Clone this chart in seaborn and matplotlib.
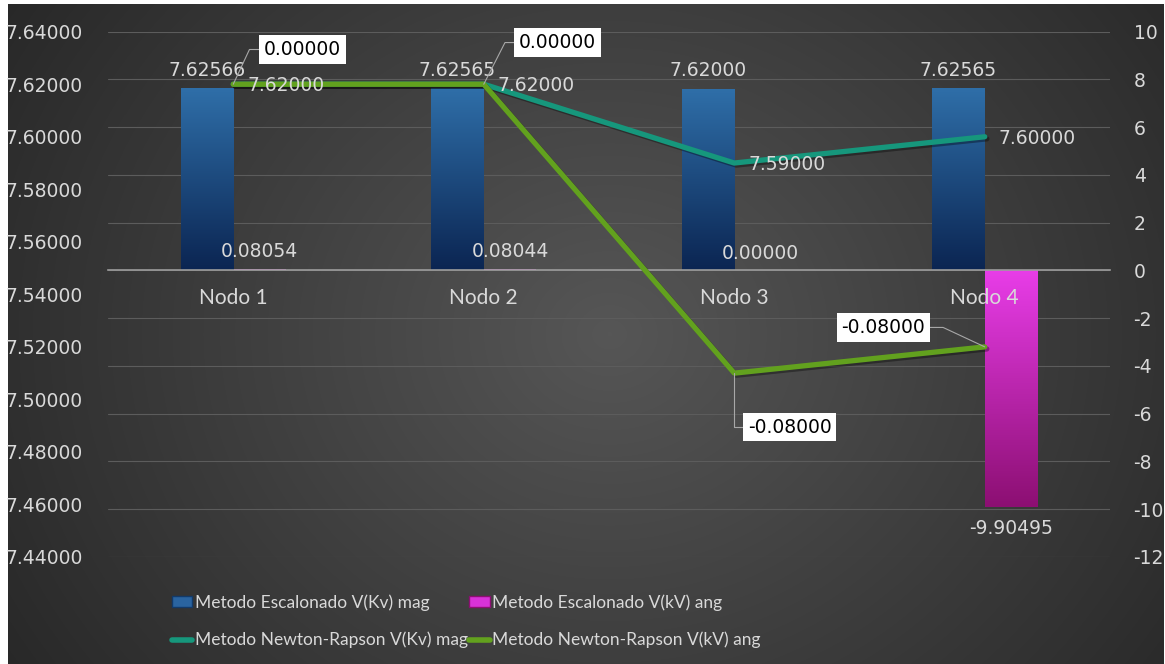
import numpy as np
import pandas as pd
import matplotlib
matplotlib.use("Agg")
import matplotlib.pyplot as plt
import matplotlib.patheffects as pe
import seaborn as sns
from matplotlib.colors import LinearSegmentedColormap
from matplotlib.patches import Patch
from matplotlib.lines import Line2D

nodos = ["Nodo 1", "Nodo 2", "Nodo 3", "Nodo 4"]
esc_mag = [7.62566, 7.62565, 7.62000, 7.62565]
esc_ang = [0.08054, 0.08044, 0.00000, -9.90495]
nr_mag = [7.62, 7.62, 7.59, 7.60]
# la linea de angulo aparece sobre el eje izquierdo en estas alturas
nr_ang_pos = [7.62, 7.62, 7.51, 7.52]
nr_ang_lbl = [0.0, 0.0, -0.08, -0.08]

series = ["Metodo Escalonado V(Kv) mag", "Metodo Escalonado V(kV) ang",
          "Metodo Newton-Rapson V(Kv) mag", "Metodo Newton-Rapson V(kV) ang"]

left_ticks = [7.44, 7.46, 7.48, 7.50, 7.52, 7.54, 7.56, 7.58, 7.60, 7.62, 7.64]
right_ticks = [-12, -10, -8, -6, -4, -2, 0, 2, 4, 6, 8, 10]

azul, rosa = "#2a64a0", "#d832d8"
teal, verde = "#16977c", "#62a11e"
txt = "#d9d9d9"
num_font = ["DejaVu Sans"]
num_size = 13.5

sns.set_style("dark")
plt.rcParams["font.family"] = ["Lato", "DejaVu Sans"]

fig = plt.figure(figsize=(11.65, 6.64), dpi=100, facecolor="white")

# fondo con degradado radial
bg = fig.add_axes([8 / 1165, 0, 1155 / 1165, 660 / 664])
bg.set_zorder(-10)
H, W = 660, 1155
yy, xx = np.mgrid[0:H, 0:W]
r = np.sqrt(((xx - 0.52 * W) / (0.62 * W)) ** 2 + ((yy - 0.5 * H) / (0.95 * H)) ** 2)
r = np.clip(r, 0, 1)
bg_cmap = LinearSegmentedColormap.from_list("bg", ["#565656", "#282828"])
bg.imshow(r, cmap=bg_cmap, aspect="auto", vmin=0, vmax=1)
bg.axis("off")

ax = fig.add_axes([108 / 1165, 1 - 557 / 664, 1002 / 1165, 525.3 / 664])
ax.set_facecolor("none")

df = pd.DataFrame({
    "nodo": nodos * 2,
    "serie": [series[0]] * 4 + [series[1]] * 4,
    "valor": esc_mag + esc_ang,
})
sns.barplot(data=df, x="nodo", y="valor", hue="serie", palette=[azul, rosa],
            width=0.42, saturation=1, linewidth=0, legend=False, ax=ax)

# degradado dentro de cada barra
grad = np.linspace(0, 1, 256).reshape(-1, 1)
colores = [("#0b2552", "#2f6fa9"), ("#8c0f72", "#e83de8")]
for cont, (c_bot, c_top) in zip(ax.containers, colores):
    cm = LinearSegmentedColormap.from_list("g", [c_bot, c_top])
    for p in cont.patches:
        h = p.get_height()
        if h == 0:
            continue
        x0, y0, w = p.get_x(), p.get_y(), p.get_width()
        lo, hi = min(y0, y0 + h), max(y0, y0 + h)
        if hi - lo < 0.3:
            p.set_facecolor("#e070e0")
            continue
        im = ax.imshow(grad, extent=[x0, x0 + w, lo, hi], origin="lower",
                       cmap=cm, aspect="auto", zorder=p.get_zorder() + 0.1)
        im.set_clip_path(p)

ax_l = ax.twinx()
ax_l.set_facecolor("none")
sombra = [pe.SimpleLineShadow(offset=(1.5, -1.5), alpha=0.35), pe.Normal()]
pos = np.arange(len(nodos))
sns.lineplot(x=pos, y=nr_mag, color=teal, lw=3.8, ax=ax_l, path_effects=sombra)
sns.lineplot(x=pos, y=nr_ang_pos, color=verde, lw=3.8, ax=ax_l, path_effects=sombra)

ax.set_xlim(-0.5, 3.5)
ax.set_ylim(-12, 10)
ax_l.set_ylim(7.44, 7.64)

ax.yaxis.tick_right()
ax.set_yticks(right_ticks)
ax.set_yticklabels([str(t) for t in right_ticks], family=num_font)
ax.tick_params(axis="y", length=0, pad=17, labelcolor=txt, labelsize=num_size)
ax_l.yaxis.tick_left()
ax_l.set_yticks(left_ticks)
ax_l.set_yticklabels([f"{t:.5f}" for t in left_ticks], family=num_font)
ax_l.tick_params(axis="y", length=0, pad=18, labelcolor=txt, labelsize=num_size)
ax_l.tick_params(axis="x", bottom=False, labelbottom=False)

ax.set_xticks(pos)
ax.tick_params(axis="x", length=0, labelbottom=False)
ax.spines["bottom"].set_position(("data", 0))
ax.spines["bottom"].set_color("#9c9c9c")
ax.spines["bottom"].set_linewidth(1.2)
for s in ["top", "left", "right"]:
    ax.spines[s].set_visible(False)
for s in ax_l.spines.values():
    s.set_visible(False)
ax.set_axisbelow(True)
ax.grid(axis="y", color="#5c5c5c", lw=0.8)
ax.grid(axis="x", visible=False)
ax_l.grid(False)
for a in (ax, ax_l):
    a.set_xlabel("")
    a.set_ylabel("")

# nombres de nodo bajo la linea de cero, encima de las barras
for x, n in zip(pos, nodos):
    ax.annotate(n, (x, 0), xytext=(0, -20), textcoords="offset points",
                ha="center", va="center", color=txt, fontsize=15, zorder=6)

# etiquetas de barras
for p, v in zip(ax.containers[0].patches, esc_mag):
    ax.annotate(f"{v:.5f}", (p.get_x() + p.get_width() / 2, v), xytext=(0, 9),
                textcoords="offset points", ha="center", va="baseline",
                color=txt, fontsize=num_size, family=num_font)
for p, v in zip(ax.containers[1].patches, esc_ang):
    if v < 0:
        ax.annotate(f"{v:.5f}", (p.get_x() + p.get_width() / 2, v), xytext=(0, -9),
                    textcoords="offset points", ha="center", va="top",
                    color=txt, fontsize=num_size, family=num_font)
    else:
        ax.annotate(f"{v:.5f}", (p.get_x() + p.get_width() / 2, v), xytext=(0, 8),
                    textcoords="offset points", ha="center", va="baseline",
                    color=txt, fontsize=num_size, family=num_font)

# etiquetas de la linea de magnitud
for x, v in zip(pos, nr_mag):
    ax_l.annotate(f"{v:.5f}", (x, v), xytext=(10, -1), textcoords="offset points",
                  ha="left", va="center", color=txt, fontsize=num_size,
                  family=num_font)

# etiquetas de la linea de angulo (cajas blancas con guia)
offsets = [(50, 25), (53, 30), (40, -39), (-73, 14)]
ang_b = [65, 63, 90, 155]
for x, yv, lbl, off, angb in zip(pos, nr_ang_pos, nr_ang_lbl, offsets, ang_b):
    izq = off[0] > 0
    ax_l.annotate(f"{lbl:.5f}", (x, yv), xytext=off, textcoords="offset points",
                  ha="center", va="center", color="black", fontsize=num_size,
                  family=num_font,
                  bbox=dict(boxstyle="square,pad=0.25", fc="white", ec="none"),
                  arrowprops=dict(arrowstyle="-", color="#a8a8a8", lw=0.8,
                                  shrinkA=0, shrinkB=0,
                                  relpos=(0, 0.5) if izq else (1, 0.5),
                                  connectionstyle=f"angle,angleA={180 if izq else 0},angleB={angb},rad=0"),
                  zorder=5)

handles = [
    Patch(facecolor=azul, edgecolor="#123a6a"),
    Line2D([], [], color=teal, lw=4),
    Patch(facecolor=rosa, edgecolor="#8c0f72"),
    Line2D([], [], color=verde, lw=4),
]
labels = [series[0], series[2], series[1], series[3]]
fig.legend(handles, labels, ncol=2, loc="center left",
           bbox_to_anchor=(156 / 1165, 1 - 621.5 / 664), frameon=False,
           handlelength=1.2, handleheight=0.6, handletextpad=0.15,
           columnspacing=0.05, labelspacing=1.2, fontsize=12.5, labelcolor=txt)

fig.savefig("out.png", dpi=100, facecolor=fig.get_facecolor())
